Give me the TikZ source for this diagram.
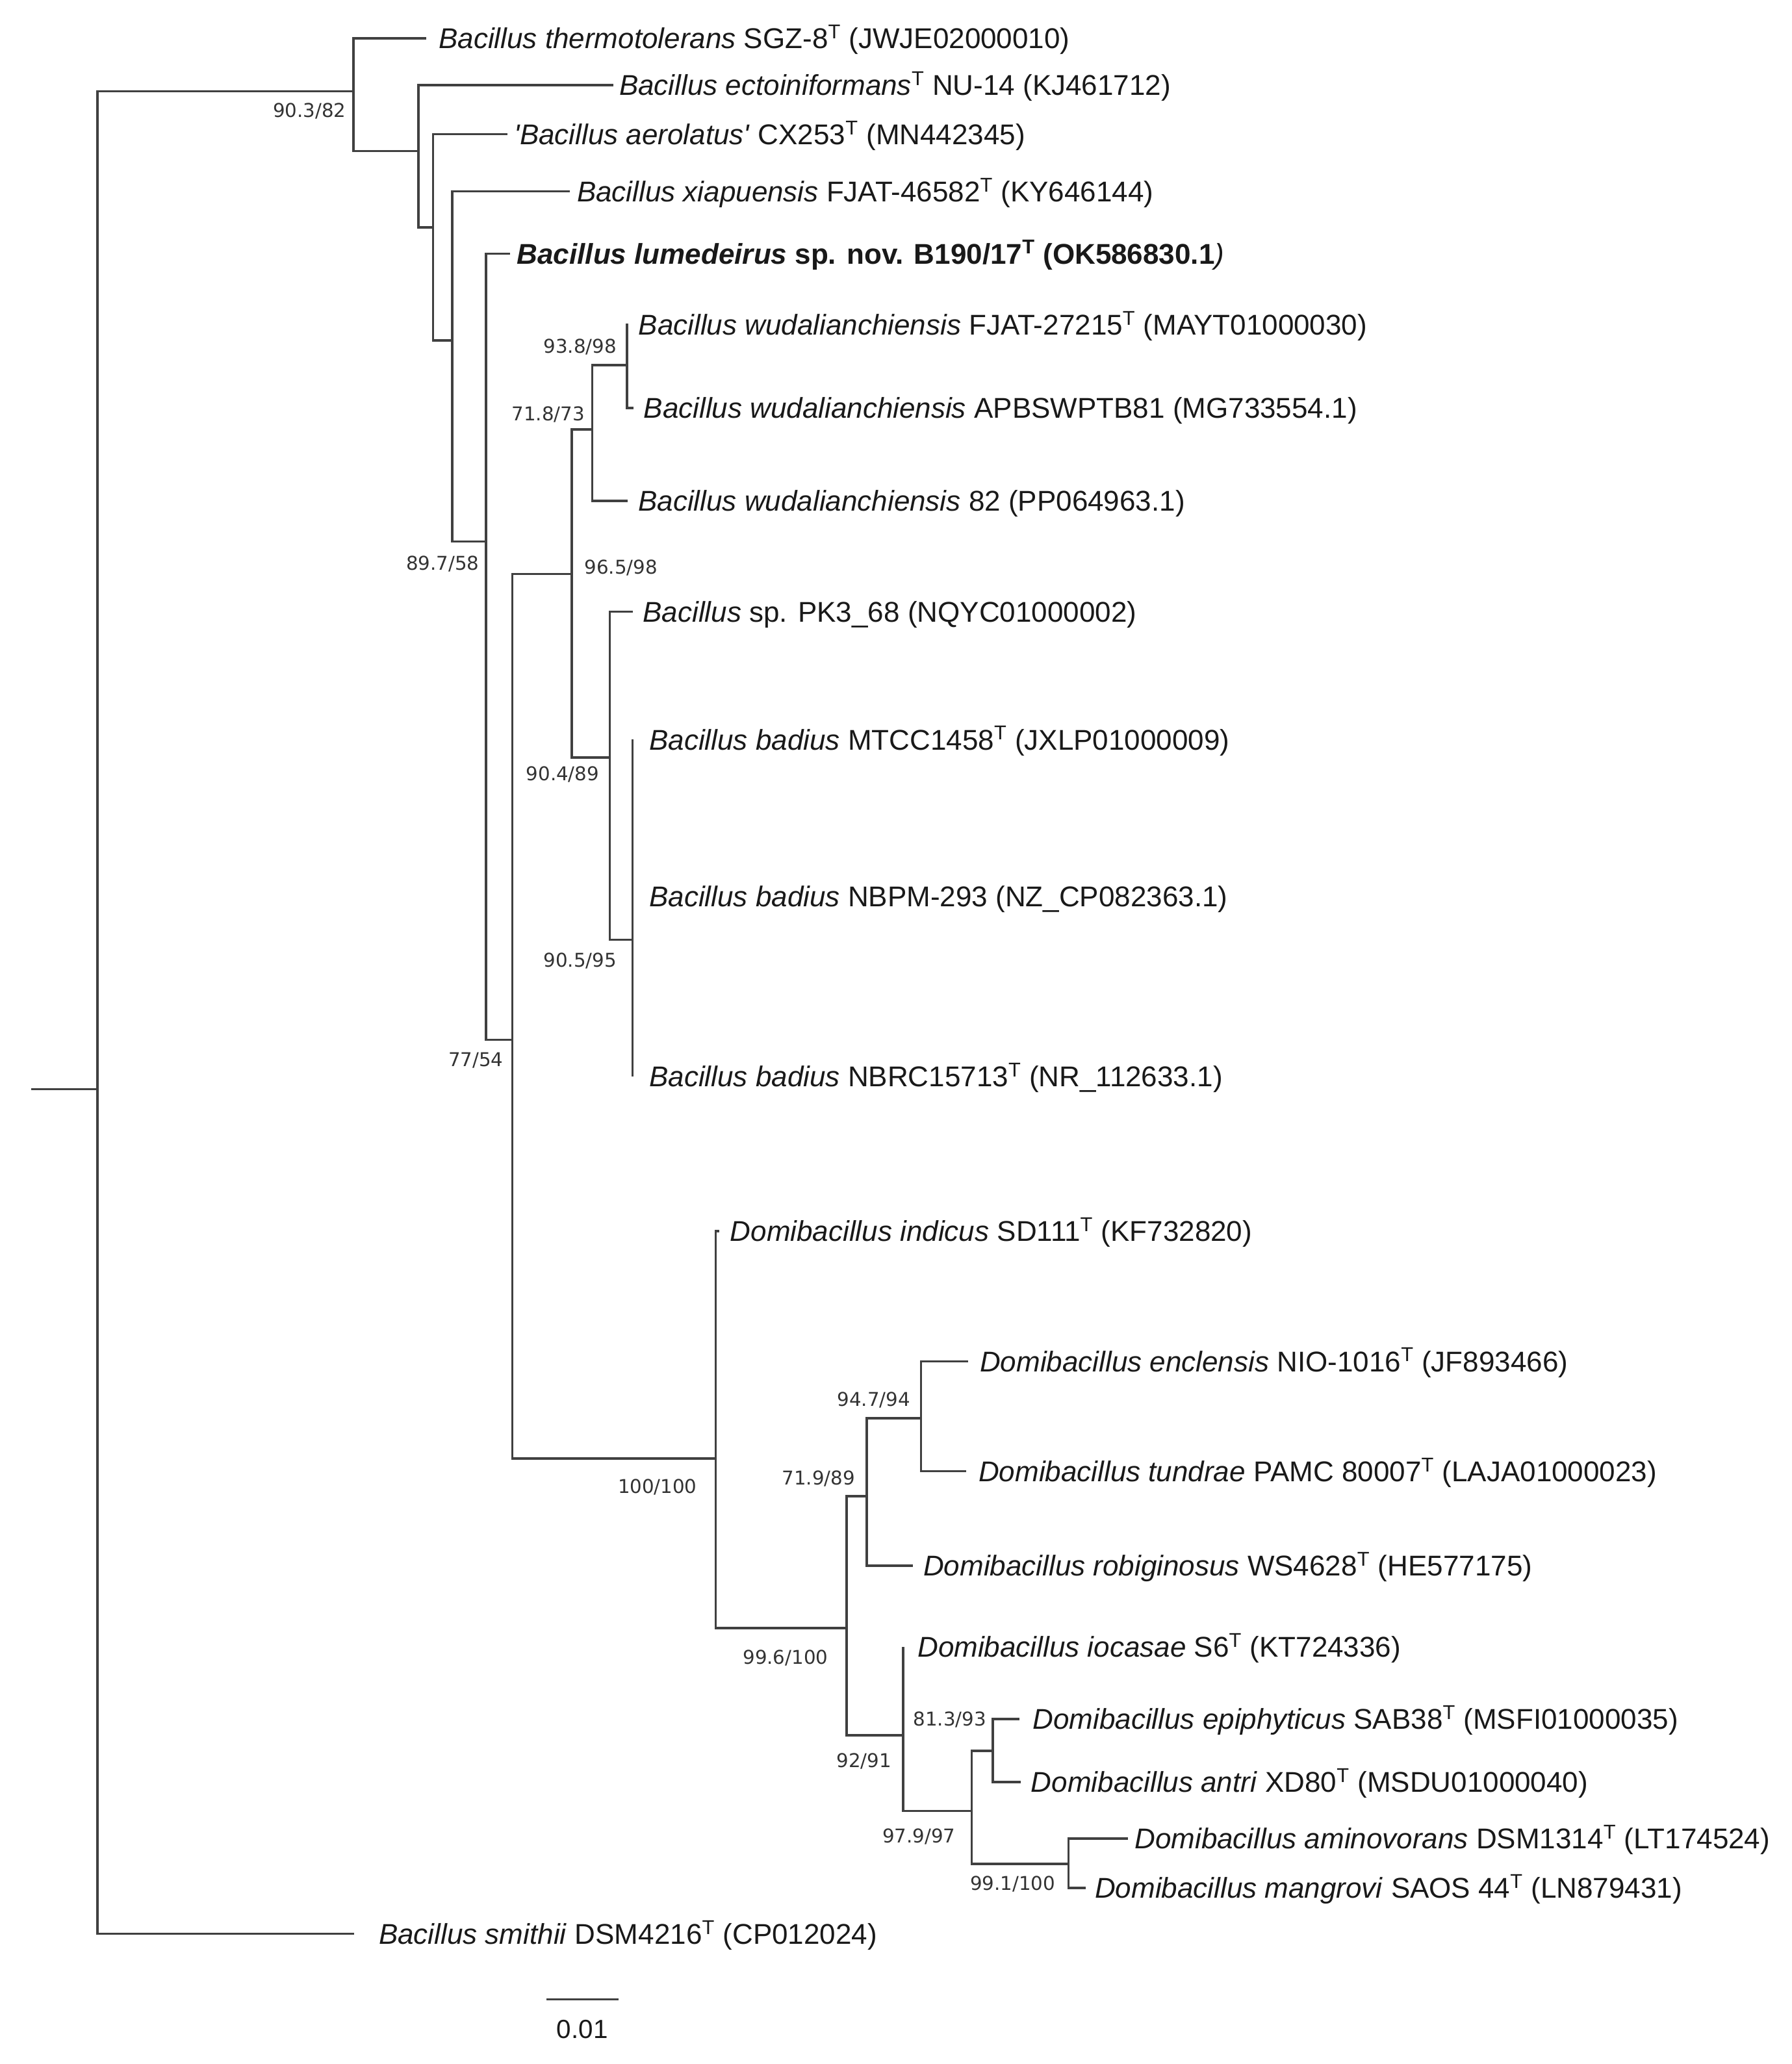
\documentclass[tikz,border=0pt]{standalone}
\usepackage{fontspec}
\setmainfont{Liberation Sans}
\newfontfamily\bootfont{DejaVu Sans}
\begin{document}
\begin{tikzpicture}[x=1pt, y=-1pt,
	branch/.style={draw=black!75, line width=1.75pt},
	taxon/.style={anchor=base west, inner sep=0pt, yshift=-7.8pt, text=black!90, font=\fontsize{21.8}{24}\selectfont},
	boot/.style={anchor=base, inner sep=0pt, yshift=-5.3pt, text=black!80, font=\bootfont\fontsize{14.5}{16}\selectfont}]
	\useasboundingbox (0,0) rectangle (1366,1574);

	% Define the internal nodes of the tree
	\coordinate (stub) at (23.9, 830.5);
	\coordinate (root) at (74.3, 830.5);
	\coordinate (n90) at (269.4, 69.5);
	\coordinate (necto) at (319.1, 115.2);
	\coordinate (naero) at (330.2, 173.5);
	\coordinate (nxia) at (344.9, 259.7);
	\coordinate (nlum) at (370.5, 413);
	\coordinate (n77) at (390.7, 793);
	\coordinate (n965) at (436, 437.7);
	\coordinate (n718) at (451.5, 327.5);
	\coordinate (n938) at (478.2, 278.3);
	\coordinate (n904) at (465, 577.8);
	\coordinate (n905) at (482.3, 716.7);
	\coordinate (nbad) at (482.3, 624);
	\coordinate (n100) at (545.7, 1112.3);
	\coordinate (n996) at (645.5, 1241.5);
	\coordinate (n719) at (660.8, 1141);
	\coordinate (n947) at (702.2, 1081.6);
	\coordinate (n92) at (688.7, 1323.4);
	\coordinate (n979) at (740.8, 1380.9);
	\coordinate (n813) at (757, 1335.1);
	\coordinate (n991) at (814.8, 1421.4);

	% Define the tips of the leaves
	\coordinate (tthermo) at (325, 29.3);
	\coordinate (tecto) at (467.6, 64.9);
	\coordinate (taero) at (387, 102.4);
	\coordinate (txia) at (434.6, 145.9);
	\coordinate (tlum) at (388.7, 193.4);
	\coordinate (twudf) at (479, 247.8);
	\coordinate (twuda) at (483.2, 311);
	\coordinate (twudb) at (478.6, 382.1);
	\coordinate (tpk) at (482.7, 466.4);
	\coordinate (tmtcc) at (482.3, 564);
	\coordinate (tnbpm) at (482.3, 683.5);
	\coordinate (tnbrc) at (482.3, 821);
	\coordinate (tind) at (548.6, 938.9);
	\coordinate (tenc) at (738.2, 1038.1);
	\coordinate (ttun) at (736.8, 1121.9);
	\coordinate (trob) at (696.2, 1194);
	\coordinate (tioc) at (688.7, 1255.7);
	\coordinate (tepi) at (777.4, 1311);
	\coordinate (tant) at (778.4, 1359);
	\coordinate (tami) at (859.9, 1402);
	\coordinate (tman) at (828, 1439.6);
	\coordinate (tsmi) at (270, 1474.7);

	% Leaf labels
	\node[taxon] (lthermo) at (334.4, 29.3) {\textit{Bacillus thermotolerans} SGZ-8\textsuperscript{T} (JWJE02000010)};
	\node[taxon] (lecto) at (472, 64.9) {\textit{Bacillus ectoiniformans}\textsuperscript{T} NU-14 (KJ461712)};
	\node[taxon] (laero) at (392, 102.4) {\textit{\textquotesingle Bacillus aerolatus\textquotesingle} CX253\textsuperscript{T} (MN442345)};
	\node[taxon] (lxia) at (439.8, 145.9) {\textit{Bacillus xiapuensis} FJAT-46582\textsuperscript{T} (KY646144)};
	\node[taxon] (llum) at (394, 193.4) {\textbf{\textit{Bacillus lumedeirus} sp. nov. B190/17\textsuperscript{T} (OK586830.1}\textit{)}};
	\node[taxon] (lwudf) at (486.7, 247.8) {\textit{Bacillus wudalianchiensis} FJAT-27215\textsuperscript{T} (MAYT01000030)};
	\node[taxon] (lwuda) at (490.6, 311) {\textit{Bacillus wudalianchiensis} APBSWPTB81 (MG733554.1)};
	\node[taxon] (lwudb) at (486.5, 382.1) {\textit{Bacillus wudalianchiensis} 82 (PP064963.1)};
	\node[taxon] (lpk) at (490, 466.4) {\textit{Bacillus} sp. PK3\_68 (NQYC01000002)};
	\node[taxon] (lmtcc) at (494.9, 564) {\textit{Bacillus badius} MTCC1458\textsuperscript{T} (JXLP01000009)};
	\node[taxon] (lnbpm) at (494.9, 683.5) {\textit{Bacillus badius} NBPM-293 (NZ\_CP082363.1)};
	\node[taxon] (lnbrc) at (494.9, 821) {\textit{Bacillus badius} NBRC15713\textsuperscript{T} (NR\_112633.1)};
	\node[taxon] (lind) at (556.6, 938.9) {\textit{Domibacillus indicus} SD111\textsuperscript{T} (KF732820)};
	\node[taxon] (lenc) at (747, 1038.1) {\textit{Domibacillus enclensis} NIO-1016\textsuperscript{T} (JF893466)};
	\node[taxon] (ltun) at (746, 1121.9) {\textit{Domibacillus tundrae} PAMC 80007\textsuperscript{T} (LAJA01000023)};
	\node[taxon] (lrob) at (703.9, 1194) {\textit{Domibacillus robiginosus} WS4628\textsuperscript{T} (HE577175)};
	\node[taxon] (lioc) at (699.5, 1255.7) {\textit{Domibacillus iocasae} S6\textsuperscript{T} (KT724336)};
	\node[taxon] (lepi) at (787.3, 1311) {\textit{Domibacillus epiphyticus} SAB38\textsuperscript{T} (MSFI01000035)};
	\node[taxon] (lant) at (786, 1359) {\textit{Domibacillus antri} XD80\textsuperscript{T} (MSDU01000040)};
	\node[taxon] (lami) at (865, 1402) {\textit{Domibacillus aminovorans} DSM1314\textsuperscript{T} (LT174524)};
	\node[taxon] (lman) at (834.7, 1439.6) {\textit{Domibacillus mangrovi} SAOS 44\textsuperscript{T} (LN879431)};
	\node[taxon] (lsmi) at (288.7, 1474.7) {\textit{Bacillus smithii} DSM4216\textsuperscript{T} (CP012024)};

	% Bootstrap values
	\node[boot] (b90) at (235.9, 83.9) {90.3/82};
	\node[boot] (b897) at (337.5, 429.5) {89.7/58};
	\node[boot] (b938) at (442.3, 264.2) {93.8/98};
	\node[boot] (b718) at (418, 315.7) {71.8/73};
	\node[boot] (b965) at (473.5, 432.6) {96.5/98};
	\node[boot] (b904) at (429, 589.8) {90.4/89};
	\node[boot] (b905) at (442.3, 732.2) {90.5/95};
	\node[boot] (b77) at (362.8, 808) {77/54};
	\node[boot] (b100) at (501.3, 1133.6) {100/100};
	\node[boot] (b996) at (598.9, 1263.5) {99.6/100};
	\node[boot] (b719) at (624.1, 1127) {71.9/89};
	\node[boot] (b947) at (666.3, 1067) {94.7/94};
	\node[boot] (b813) at (724.2, 1310.7) {81.3/93};
	\node[boot] (b92) at (658.8, 1342.6) {92/91};
	\node[boot] (b979) at (700.7, 1400) {97.9/97};
	\node[boot] (b991) at (772.2, 1436) {99.1/100};

	% Draw the branches
	\draw[branch] (stub) -- (root);
	\draw[branch] (root) |- (n90);
	\draw[branch] (root) |- (tsmi);
	\draw[branch] (n90) |- (tthermo);
	\draw[branch] (n90) |- (necto);
	\draw[branch] (necto) |- (tecto);
	\draw[branch] (necto) |- (naero);
	\draw[branch] (naero) |- (taero);
	\draw[branch] (naero) |- (nxia);
	\draw[branch] (nxia) |- (txia);
	\draw[branch] (nxia) |- (nlum);
	\draw[branch] (nlum) |- (tlum);
	\draw[branch] (nlum) |- (n77);
	\draw[branch] (n77) |- (n965);
	\draw[branch] (n77) |- (n100);
	\draw[branch] (n965) |- (n718);
	\draw[branch] (n965) |- (n904);
	\draw[branch] (n718) |- (n938);
	\draw[branch] (n718) |- (twudb);
	\draw[branch] (n938) |- (twudf);
	\draw[branch] (n938) |- (twuda);
	\draw[branch] (n904) |- (tpk);
	\draw[branch] (n904) |- (n905);
	\draw[branch] (n905) |- (nbad);
	\draw[branch] (n905) |- (tnbrc);
	\draw[branch] (nbad) |- (tmtcc);
	\draw[branch] (nbad) |- (tnbpm);
	\draw[branch] (n100) |- (tind);
	\draw[branch] (n100) |- (n996);
	\draw[branch] (n996) |- (n719);
	\draw[branch] (n996) |- (n92);
	\draw[branch] (n719) |- (n947);
	\draw[branch] (n719) |- (trob);
	\draw[branch] (n947) |- (tenc);
	\draw[branch] (n947) |- (ttun);
	\draw[branch] (n92) |- (tioc);
	\draw[branch] (n92) |- (n979);
	\draw[branch] (n979) |- (n813);
	\draw[branch] (n979) |- (n991);
	\draw[branch] (n813) |- (tepi);
	\draw[branch] (n813) |- (tant);
	\draw[branch] (n991) |- (tami);
	\draw[branch] (n991) |- (tman);

	% Scale bar
	\coordinate (sbl) at (416.8, 1524.6);
	\coordinate (sbr) at (471.5, 1524.6);
	\draw[branch] (sbl) -- (sbr);
	\node[anchor=base, inner sep=0pt, yshift=-7.2pt, text=black!90, font=\fontsize{20}{22}\selectfont] (sblab) at (444, 1547) {0.01};
\end{tikzpicture}
\end{document}
